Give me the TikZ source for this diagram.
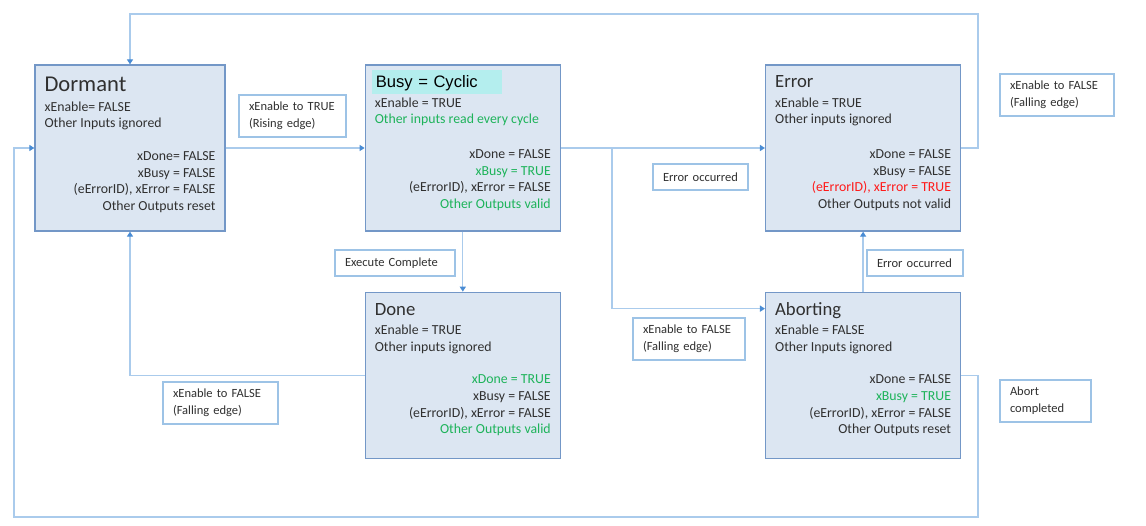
\documentclass[tikz,border=0pt]{standalone}
\usepackage{fontspec}
\setmainfont{Carlito}
\newfontfamily\arialfont{Liberation Sans}
\usetikzlibrary{arrows.meta,positioning}

\definecolor{statefill}{HTML}{DCE6F2}
\definecolor{stateline}{HTML}{7397C7}
\definecolor{linkblue}{HTML}{AACBEC}
\definecolor{tipblue}{HTML}{4A8CD4}
\definecolor{lblline}{HTML}{9DC3E6}
\definecolor{txtgray}{HTML}{303030}
\definecolor{okgreen}{HTML}{1DB35A}
\definecolor{errred}{HTML}{FF1A1A}
\definecolor{cyclic}{HTML}{B4EEEE}

\tikzset{
  statebox/.style={draw=stateline,line width=1.3pt,fill=statefill,minimum width=195pt,minimum height=166pt,inner sep=0pt},
  stname/.style={anchor=base west,inner sep=0pt,text=txtgray,font=\fontsize{18.7}{22}\selectfont},
  inputs/.style={anchor=north west,align=left,inner sep=0pt,text=txtgray,font=\fontsize{13.8}{16.7}\selectfont,execute at begin node=\strut},
  outputs/.style={anchor=north east,align=right,inner sep=0pt,text=txtgray,font=\fontsize{13.8}{16.7}\selectfont,execute at begin node=\strut},
  cyclicbox/.style={anchor=north west,fill=cyclic,align=left,text width=122pt,inner xsep=4pt,inner ysep=4pt,text height=14pt,text depth=2pt,text=black,font=\arialfont\fontsize{16.6}{19}\selectfont},
  lbl/.style={draw=lblline,line width=1.3pt,fill=white,align=left,inner xsep=10pt,inner ysep=0pt,text=txtgray,font=\fontsize{12.5}{17}\selectfont},
  conn/.style={linkblue,line width=1.3pt,-{Triangle[length=5pt,width=6pt,color=tipblue]}}
}

\begin{document}
\begin{tikzpicture}[x=1pt,y=-1pt]
\useasboundingbox (0,0) rectangle (1146,526);

% states
\node[statebox,minimum width=190pt] (dormant) at (130,148) {};
\node[statebox,right=139pt of dormant] (busy) {};
\node[statebox,right=204pt of busy] (error) {};
\node[statebox,below=60pt of busy] (done) {};
\node[statebox,below=60pt of error] (aborting) {};

% dormant
\node[stname,font=\fontsize{22.6}{26}\selectfont] (dormantT) at ([shift={(10pt,-27pt)}]dormant.north west) {Dormant};
\node[inputs] (dormantIn) at ([shift={(10pt,-37pt)}]dormant.north west) {xEnable= FALSE\\Other Inputs ignored};
\node[outputs] (dormantOut) at ([shift={(-10pt,-87pt)}]dormant.north east) {xDone= FALSE\\xBusy = FALSE\\(eErrorID), xError = FALSE\\Other Outputs reset};

% busy
\node[cyclicbox] (busyT) at ([shift={(7pt,-5pt)}]busy.north west) {Busy = Cyclic};
\node[inputs] (busyIn) at ([shift={(10pt,-33pt)}]busy.north west) {xEnable = TRUE\\\textcolor{okgreen}{Other inputs read every cycle}};
\node[outputs] (busyOut) at ([shift={(-10pt,-85pt)}]busy.north east) {xDone = FALSE\\\textcolor{okgreen}{xBusy = TRUE}\\(eErrorID), xError = FALSE\\\textcolor{okgreen}{Other Outputs valid}};

% error
\node[stname] (errorT) at ([shift={(10pt,-23pt)}]error.north west) {Error};
\node[inputs] (errorIn) at ([shift={(10pt,-33pt)}]error.north west) {xEnable = TRUE\\Other inputs ignored};
\node[outputs] (errorOut) at ([shift={(-10pt,-85pt)}]error.north east) {xDone = FALSE\\xBusy = FALSE\\\textcolor{errred}{(eErrorID), xError = TRUE}\\Other Outputs not valid};

% done
\node[stname] (doneT) at ([shift={(10pt,-24pt)}]done.north west) {Done};
\node[inputs] (doneIn) at ([shift={(10pt,-33pt)}]done.north west) {xEnable = TRUE\\Other inputs ignored};
\node[outputs] (doneOut) at ([shift={(-10pt,-83pt)}]done.north east) {\textcolor{okgreen}{xDone = TRUE}\\xBusy = FALSE\\(eErrorID), xError = FALSE\\\textcolor{okgreen}{Other Outputs valid}};

% aborting
\node[stname] (abortingT) at ([shift={(10pt,-24pt)}]aborting.north west) {Aborting};
\node[inputs] (abortingIn) at ([shift={(10pt,-33pt)}]aborting.north west) {xEnable = FALSE\\Other Inputs ignored};
\node[outputs] (abortingOut) at ([shift={(-10pt,-83pt)}]aborting.north east) {xDone = FALSE\\\textcolor{okgreen}{xBusy = TRUE}\\(eErrorID), xError = FALSE\\Other Outputs reset};

% transitions
\coordinate (br) at (612,148);
\coordinate (topR) at (978,14);
\coordinate (botR) at (978,517);
\coordinate (botL) at (14,517);
\draw[conn] (dormant.east) -- (busy.west);
\draw[conn] (busy.east) -- (error.west);
\draw[conn] (br) |- ([yshift=-17pt]aborting.north west);
\draw[conn] (busy.south) -- (done.north);
\draw[conn] (done.west) -| (dormant.south);
\draw[conn] (aborting.north) -- (error.south);
\draw[conn] (error.east) -| (topR) -| (dormant.north);
\draw[conn] (aborting.east) -| (botR) -- (botL) |- (dormant.west);

% transition labels
\node[lbl,text width=87pt,minimum height=42pt] (rising) at (292.5,116) {xEnable to TRUE\\(Rising edge)};
\node[lbl,text width=100pt,minimum height=26pt] (execDone) at (395,263) {Execute Complete};
\node[lbl,text width=95pt,minimum height=42pt] (fallDone) at (220.5,403) {xEnable to FALSE\\(Falling edge)};
\node[lbl,text width=75pt,minimum height=26pt] (errBusy) at (700.5,177) {Error occurred};
\node[lbl,text width=92pt,minimum height=42pt] (fallBusy) at (689,339) {xEnable to FALSE\\(Falling edge)};
\node[lbl,text width=76pt,minimum height=26pt] (errAbort) at (915,263) {Error occurred};
\node[lbl,text width=94pt,minimum height=42pt] (fallErr) at (1057,95) {xEnable to FALSE\\(Falling edge)};
\node[lbl,text width=71pt,minimum height=42pt] (abortEnd) at (1045.5,401) {Abort\\completed};
\end{tikzpicture}
\end{document}
